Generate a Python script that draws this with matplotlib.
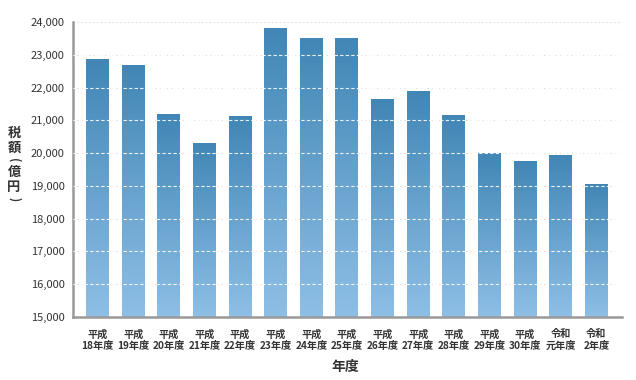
import matplotlib.pyplot as plt
import numpy as np
from matplotlib.colors import LinearSegmentedColormap

plt.rcParams['font.family'] = ['Noto Sans CJK JP', 'DejaVu Sans']

# 年度ラベルと税額（億円）
eras = ['平成'] * 13 + ['令和'] * 2
years = ['18年度', '19年度', '20年度', '21年度', '22年度', '23年度', '24年度',
         '25年度', '26年度', '27年度', '28年度', '29年度', '30年度', '元年度', '2年度']
values = [22870, 22690, 21190, 20310, 21130, 23820, 23510,
          23510, 21650, 21900, 21160, 20000, 19760, 19950, 19060]
yticks = [15000, 16000, 17000, 18000, 19000, 20000, 21000, 22000, 23000, 24000]

fig = plt.figure(figsize=(6.36, 3.8), dpi=100)
ax = fig.add_axes([73 / 636, 1 - 317 / 380, (622 - 73) / 636, (317 - 22) / 380])

x = np.arange(len(values))

# 背景のグリッド（点線）
for yv in yticks[1:]:
    ax.axhline(yv, color='#dedede', lw=0.8, ls=(0, (1.5, 2)), zorder=0)

# グラデーションの棒
cmap = LinearSegmentedColormap.from_list('bar', ['#8ebfe6', '#4186b5'])
grad = np.linspace(0, 1, 256).reshape(-1, 1)
bars = ax.bar(x, np.array(values) - 15000, bottom=15000, width=0.645,
              color='none', edgecolor='none', zorder=2)
for b in bars:
    x0, w = b.get_x(), b.get_width()
    top = b.get_y() + b.get_height()
    im = ax.imshow(grad, cmap=cmap, origin='lower', aspect='auto',
                   extent=[x0, x0 + w, 15000, top], zorder=2)
    im.set_clip_path(b)

# 棒の上の白い破線
for yv in yticks[1:-1]:
    ax.axhline(yv, color='white', lw=0.8, ls=(0, (3, 2)), alpha=0.9, zorder=3)

ax.set_xlim(-0.69, len(values) - 1 + 0.72)
ax.set_ylim(15000, 24000)

ax.set_yticks(yticks)
ax.set_yticklabels([f'{v:,}' for v in yticks], fontsize=8, color='#333333')
ax.set_xticks(x)
ax.set_xticklabels([f'{e}\n{y}' for e, y in zip(eras, years)], fontsize=7.3,
                   color='#333333', fontweight='bold', linespacing=1.15)
ax.tick_params(length=0, pad=6)
ax.tick_params(axis='x', pad=9)

for s in ['top', 'right']:
    ax.spines[s].set_visible(False)
for s in ['left', 'bottom']:
    ax.spines[s].set_color('#999999')
    ax.spines[s].set_linewidth(1.8)

fig.text(345 / 636, 1 - 367 / 380, '年度', ha='center', va='center',
         fontsize=10, fontweight='bold', color='#333333')

# 縦書きの軸ラベル
ylabel_chars = [('税', 133, 0, 9.5), ('額', 148, 0, 9.5), ('(', 160, -90, 8),
                ('億', 171.5, 0, 9.5), ('円', 187, 0, 9.5), (')', 199.5, -90, 8)]
for ch, ypix, rot, fs in ylabel_chars:
    fig.text(14 / 636, 1 - ypix / 380, ch, ha='center', va='center', rotation=rot,
             rotation_mode='anchor', fontsize=fs, fontweight='bold', color='#333333')

fig.savefig('out.png', dpi=100)
